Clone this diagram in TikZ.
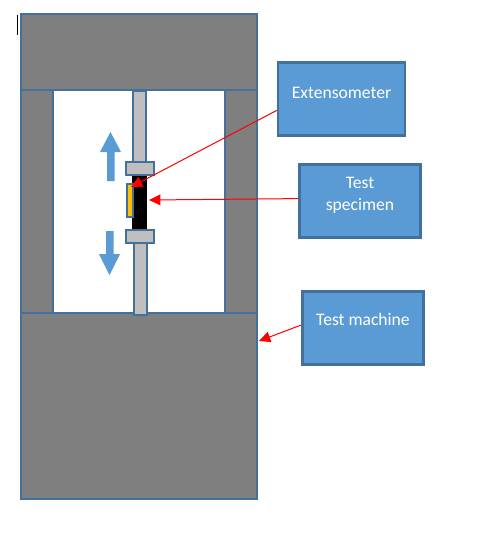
\documentclass[tikz,border=0pt]{standalone}
\usepackage{fontspec}
\setmainfont{Carlito}
\usetikzlibrary{arrows.meta}
\definecolor{edgeblue}{HTML}{41719C}
\definecolor{fillblue}{HTML}{5B9BD5}
\definecolor{machgray}{HTML}{7F7F7F}
\definecolor{rodgray}{HTML}{BFBFBF}
\definecolor{extyellow}{HTML}{FFC000}
\tikzset{
  x=0.75pt,y=-0.75pt,
  part/.style={draw=edgeblue,line width=1.9pt,fill=#1},
  callout/.style={draw=edgeblue,line width=1.9pt,fill=fillblue,inner sep=0pt,minimum width=#1,minimum height=54.5pt},
  calltext/.style={text=white,font=\fontsize{13.2}{16.5}\selectfont,align=center},
  pointer/.style={draw=red,line width=0.75pt,-{Triangle[length=8.5pt,width=8pt]}},
  bigarrow/.style={fill=fillblue,draw=none}
}
\begin{document}
\begin{tikzpicture}
\useasboundingbox (0,0) rectangle (478,539);
\fill[white] (0,0) rectangle (478,539);
% machine frame
\draw[part=machgray] (21,14) rectangle (257,90);
\draw[part=machgray] (21,90) rectangle (53,313);
\draw[part=machgray] (225,90) rectangle (257,313);
\draw[part=machgray] (21,313) rectangle (257,499);
% rods
\draw[part=rodgray] (133,91) rectangle (146,162);
\draw[part=rodgray] (134,243) rectangle (147,315);
% specimen
\fill[black] (132,175) rectangle (147,230);
% clamps
\draw[part=rodgray] (126,162) rectangle (154,175);
\draw[part=rodgray] (126,230) rectangle (154,243);
% extensometer
\draw[part=extyellow] (127,184) rectangle (133,217);
% load arrows
\fill[bigarrow] (110.5,132) -- (121,152) -- (114.5,152) -- (114.5,181) -- (107,181) -- (107,152) -- (100,152) -- cycle;
\fill[bigarrow] (109.5,275) -- (120,254) -- (113.5,254) -- (113.5,231) -- (106,231) -- (106,254) -- (99,254) -- cycle;
% cursor mark
\draw[black,line width=0.75pt] (17.5,15) -- (17.5,35);
% callouts
\node[callout=95pt,label={[calltext,yshift=4.5pt]center:Extensometer}] (ext) at (341.5,99) {};
\node[callout=91pt,label={[calltext,yshift=4pt]center:Test\\specimen}] (spec) at (360,201) {};
\node[callout=91pt,label={[calltext,yshift=6.5pt]center:Test machine}] (mach) at (363,328) {};
\coordinate (extTip) at (131,187);
\coordinate (specTip) at (149,200);
\coordinate (machTip) at (259,341);
\draw[pointer] ([yshift=-8.5pt]ext.west) -- (extTip);
\draw[pointer] ([yshift=1.8pt]spec.west) -- (specTip);
\draw[pointer] ([yshift=2.2pt]mach.west) -- (machTip);
\end{tikzpicture}
\end{document}
